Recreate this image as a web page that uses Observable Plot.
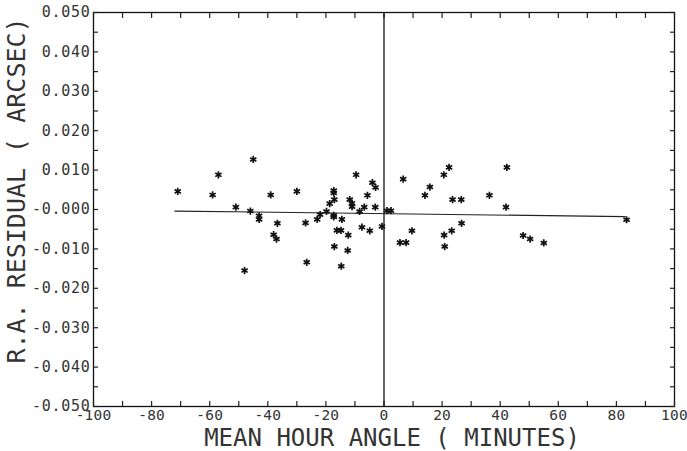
<!DOCTYPE html>
<html>
<head>
<meta charset="utf-8">
<script src="https://cdn.jsdelivr.net/npm/d3@7"></script>
<script src="https://cdn.jsdelivr.net/npm/@observablehq/plot@0.6"></script>
<style>
  html, body { margin: 0; padding: 0; background: #fff; }
  #chart svg { display: block; }
  g[aria-label="ylabel"] text { letter-spacing: 1.2px; }
  g[aria-label="xlabel"] text { letter-spacing: -0.4px; }
  g[aria-label="y-axis tick label"] text { letter-spacing: 0.7px; }
  g[aria-label="x-axis tick label"] text { letter-spacing: 0.2px; }
</style>
</head>
<body>
<div id="chart"></div>
<script>
// Observations: mean hour angle (minutes) vs R.A. residual (arcsec)
const hourAngle = [
  -71, -59, -57, -51, -48, -46, -45, -43, -43, -39,
  -38, -37, -36.7, -30, -27, -26.6, -23, -22, -19.8, -18.7,
  -17.3, -17.3, -17.1, -17.3, -17.3, -17.1, -16.2, -14.8, -14.5, -14.7,
  -12.5, -12.3, -11.8, -11, -11, -9.6, -8.4, -7.6, -6.8, -5.7,
  -4.9, -4.0, -3.0, -2.9, -0.7, 1.0, 2.4, 5.5, 6.6, 7.6,
  9.6, 14.1, 15.8, 20.6, 20.7, 20.9, 22.4, 23.3, 23.6, 26.6,
  26.7, 36.3, 42.0, 42.3, 47.9, 50.3, 55, 83.5
];
const residual = [
  0.0046, 0.0037, 0.0088, 0.0006, -0.0155, -0.0004, 0.0127, -0.0016, -0.0025, 0.0037,
  -0.0064, -0.0075, -0.0035, 0.0046, -0.0034, -0.0134, -0.0025, -0.0013, -0.0005, 0.0015,
  0.0048, 0.0042, 0.0025, -0.0015, -0.0019, -0.0094, -0.0053, -0.0053, -0.0025, -0.0144,
  -0.0104, -0.0065, 0.0025, 0.0016, 0.0007, 0.0088, -0.0005, -0.0045, 0.0006, 0.0036,
  -0.0054, 0.0068, 0.0006, 0.0056, -0.0043, -0.0003, -0.0003, -0.0084, 0.0077, -0.0084,
  -0.0054, 0.0036, 0.0057, 0.0088, -0.0065, -0.0094, 0.0107, -0.0054, 0.0025, 0.0025,
  -0.0035, 0.0036, 0.0006, 0.0107, -0.0066, -0.0075, -0.0085, -0.0026
];

// Fitted trend line endpoints
const fitX = [-72, 83];
const fitY = [-0.0004, -0.0018];

// Axis ticks and labels
const xTicks = [-100, -80, -60, -40, -20, 0, 20, 40, 60, 80, 100];
const xTickLabels = ["-100", "-80", "-60", "-40", "-20", "0", "20", "40", "60", "80", "100"];
const xMinorTicks = [-100, -90, -80, -70, -60, -50, -40, -30, -20, -10, 0, 10, 20, 30, 40, 50, 60, 70, 80, 90, 100];
const yTicks = [0.05, 0.04, 0.03, 0.02, 0.01, 0, -0.01, -0.02, -0.03, -0.04, -0.05];
const yTickLabels = ["0.050", "0.040", "0.030", "0.020", "0.010", "-0.000", "-0.010", "-0.020", "-0.030", "-0.040", "-0.050"];
const yMinorTicks = [0.05, 0.045, 0.04, 0.035, 0.03, 0.025, 0.02, 0.015, 0.01, 0.005, 0, -0.005, -0.01, -0.015, -0.02, -0.025, -0.03, -0.035, -0.04, -0.045, -0.05];

const xTitle = "MEAN HOUR ANGLE ( MINUTES)";
const yTitle = "R.A. RESIDUAL ( ARCSEC)";

const points = hourAngle.map((x, i) => ({x, y: residual[i]}));
const fit = fitX.map((x, i) => ({x, y: fitY[i]}));

const font = "'DejaVu Sans Mono', 'Liberation Mono', monospace";

const plot = Plot.plot({
  width: 687,
  height: 451,
  marginLeft: 93,
  marginRight: 13,
  marginTop: 12,
  marginBottom: 45,
  style: {fontFamily: font, fontSize: "15px", color: "#222", background: "#fff"},
  x: {domain: [-100, 100]},
  y: {domain: [-0.05, 0.05]},
  marks: [
    Plot.frame({stroke: "#111", strokeWidth: 1.3}),
    // inward ticks on all four sides
    Plot.axisX(xMinorTicks, {anchor: "bottom", tickSize: -5, text: null, label: null, strokeWidth: 1.2}),
    Plot.axisX(xMinorTicks, {anchor: "top", tickSize: -5, text: null, label: null, strokeWidth: 1.2}),
    Plot.axisY(yMinorTicks, {anchor: "left", tickSize: -5, text: null, label: null, strokeWidth: 1.2}),
    Plot.axisY(yMinorTicks, {anchor: "right", tickSize: -5, text: null, label: null, strokeWidth: 1.2}),
    // tick labels
    Plot.axisX(xTicks, {anchor: "bottom", tickSize: 0, tickPadding: 3, label: null,
      tickFormat: d => xTickLabels[xTicks.indexOf(d)], fontSize: 14.5, fill: "#333"}),
    Plot.axisY(yTicks, {anchor: "left", tickSize: 0, tickPadding: 3, label: null,
      tickFormat: d => yTickLabels[yTicks.indexOf(d)], fontSize: 15, fill: "#333"}),
    // vertical zero line
    Plot.ruleX([0], {stroke: "#111", strokeWidth: 1.3}),
    // fitted line
    Plot.line(fit, {x: "x", y: "y", stroke: "#222", strokeWidth: 1.1}),
    // observations
    Plot.dot(points, {x: "x", y: "y", symbol: "asterisk", r: 3.4, stroke: "#111", strokeWidth: 1.7}),
    // axis titles
    Plot.text([xTitle], {frameAnchor: "bottom", textAnchor: "middle", lineAnchor: "bottom", dx: 8, dy: 39, fontSize: 24, fill: "#333", ariaLabel: "xlabel"}),
    Plot.text([yTitle], {frameAnchor: "left", textAnchor: "middle", lineAnchor: "middle", dx: -77, dy: -19, rotate: -90, fontSize: 25, fill: "#333", ariaLabel: "ylabel"})
  ]
});

document.getElementById("chart").appendChild(plot);
</script>
</body>
</html>
